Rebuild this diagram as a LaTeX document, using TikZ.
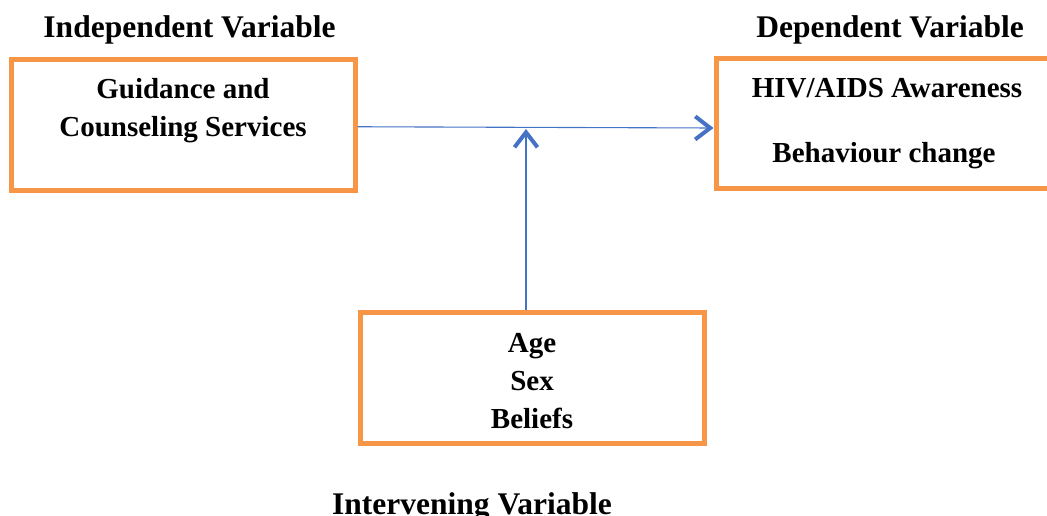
\documentclass[tikz,border=0pt]{standalone}
\usepackage{fontspec}
\setmainfont{Liberation Serif}
\usetikzlibrary{arrows.meta}
\definecolor{boxorange}{RGB}{247,150,70}
\definecolor{linkblue}{RGB}{68,114,196}
\tikzset{
  varbox/.style={draw=boxorange, line width=5pt, minimum width=343.5pt, inner sep=0pt},
  head/.style={anchor=base, font=\fontsize{31.5}{36}\selectfont\bfseries, inner sep=0pt},
  txt/.style={anchor=base, font=\fontsize{29}{34}\selectfont\bfseries, inner sep=0pt},
  link/.style={draw=linkblue, line width=1.1pt, -{Straight Barb[length=15pt, width=23pt, line width=4pt]}}
}
\begin{document}
\begin{tikzpicture}[x=1pt, y=-1pt]
        \useasboundingbox (0,0) rectangle (1047,516);
        \clip (0,0) rectangle (1047,516);
        \node[varbox, minimum height=131pt] (iv) at (183.25,124.75) {};
        \node[varbox, minimum width=344pt, minimum height=129pt] (dv) at (888,123.5) {};
        \node[varbox, minimum height=131pt] (mv) at (532.25,377.5) {};
        \node[head] (ivhead) at (189.5,38) {Independent Variable};
        \node[head] (dvhead) at (890,38) {Dependent Variable};
        \node[head] (mvhead) at (472,514) {Intervening Variable};
        \node[txt] (iv1) at (183,99) {Guidance and};
        \node[txt] (iv2) at (183,137) {Counseling Services};
        \node[txt] (dv1) at (887,98) {HIV/AIDS Awareness};
        \node[txt] (dv2) at (884,163) {Behaviour change};
        \node[txt] (mv1) at (532,352) {Age};
        \node[txt] (mv2) at (532,390) {Sex};
        \node[txt] (mv3) at (532,428) {Beliefs};
        \coordinate (tipv) at (526,129);
        \draw[link] ([yshift=-2pt]iv.east) -- ([yshift=-4.5pt]dv.west);
        \draw[link] (mv.north -| tipv) -- (tipv);
      \end{tikzpicture}
\end{document}
